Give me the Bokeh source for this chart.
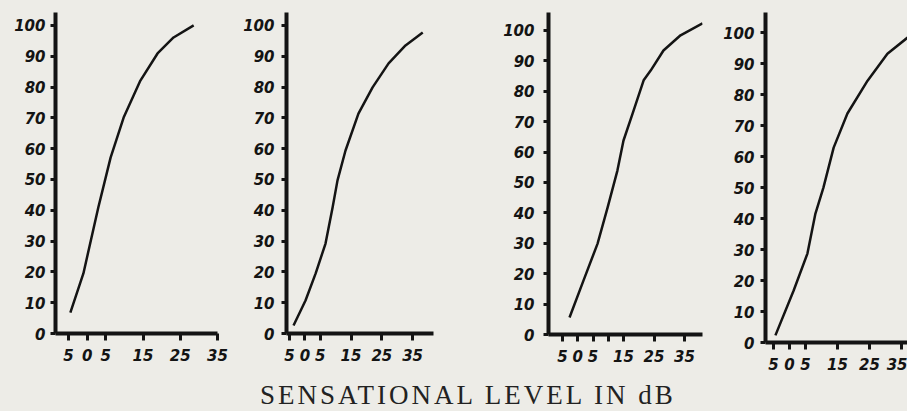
from bokeh.plotting import figure
from bokeh.layouts import row, column
from bokeh.models import FixedTicker, Div, Range1d
from bokeh.embed import file_html
from bokeh.resources import INLINE

# ---- data ----
# x: sensational level in dB, y: percent correct
p1_x = [-4.5, -1.0, 3.0, 6.3, 9.8, 14.3, 18.9, 23.2, 28.6]
p1_y = [6.8, 19.5, 40.9, 57.1, 70.1, 82.1, 90.9, 96.1, 100.0]

p2_x = [-3.7, 0.2, 3.5, 6.7, 9.0, 10.6, 13.2, 17.4, 22.0, 27.2, 32.7, 38.3]
p2_y = [2.6, 10.7, 19.5, 29.2, 40.9, 49.7, 59.4, 71.4, 79.9, 87.7, 93.5, 97.7]

p3_x = [-2.7, 1.9, 6.5, 9.8, 13.0, 15.0, 18.0, 21.6, 23.9, 28.1, 33.7, 40.9]
p3_y = [5.6, 17.8, 29.9, 41.8, 53.9, 63.8, 72.7, 83.6, 86.8, 93.4, 98.4, 102.3]

p4_x = [-4.4, 1.3, 5.6, 8.1, 10.6, 13.8, 18.1, 24.4, 30.6, 36.9]
p4_y = [2.3, 16.8, 28.7, 41.6, 50.0, 62.9, 73.9, 84.5, 93.2, 98.4]

x_ticks = [-5, 0, 5, 15, 25, 35]
x_ticks_p3 = [-5, 0, 5, 10, 15, 25, 35]
x_tick_labels = {-5: "5", 0: "0", 5: "5", 10: "", 15: "15", 25: "25", 35: "35"}
y_ticks = [0, 10, 20, 30, 40, 50, 60, 70, 80, 90, 100]

title_text = "SENSATIONAL LEVEL IN dB"

BG = "#edece7"
INK = "#141414"
TOP = 12
BOTTOM = 40


def panel(xs, ys, width, height, bl, br, xr, yr, xt, y_standoff):
    p = figure(width=width, height=height, title=None,
               x_range=Range1d(*xr), y_range=Range1d(*yr),
               output_backend="svg", toolbar_location=None,
               min_border_left=bl, min_border_right=br,
               min_border_top=TOP, min_border_bottom=BOTTOM,
               background_fill_color=BG, border_fill_color=BG,
               outline_line_color=None)
    p.grid.visible = False
    p.line(xs, ys, line_color=INK, line_width=2.5, line_join="round")

    for ax in (p.xaxis, p.yaxis):
        ax.axis_line_width = 4
        ax.axis_line_color = INK
        ax.major_tick_line_width = 3
        ax.major_tick_line_color = INK
        ax.major_tick_in = 0
        ax.minor_tick_line_color = None
        ax.major_label_text_font = "DejaVu Sans"
        ax.major_label_text_font_style = "bold italic"
        ax.major_label_text_font_size = "15px"
        ax.major_label_text_color = INK

    p.xaxis.ticker = FixedTicker(ticks=xt)
    p.xaxis.major_label_overrides = {k: v for k, v in x_tick_labels.items() if k in xt}
    p.xaxis.major_tick_out = 7
    p.xaxis.major_label_standoff = 8

    p.yaxis.ticker = FixedTicker(ticks=y_ticks)
    p.yaxis.major_tick_out = 5
    p.yaxis.major_label_standoff = y_standoff
    return p


f1 = panel(p1_x, p1_y, 240, 373, 55, 23, (-8.49, 35.0), (0, 104.2), x_ticks, 5)
f2 = panel(p2_x, p2_y, 215, 373, 46, 22, (-5.98, 41.8), (0, 104.2), x_ticks, 7)
f3 = panel(p3_x, p3_y, 260, 374, 93, 13, (-9.59, 40.9), (0, 105.9), x_ticks_p3, 9)
f4 = panel(p4_x, p4_y, 192, 382, 50, 0, (-7.5, 36.875), (0, 106.5), x_ticks, 6)

title = Div(
    text=('<div style="margin-left:260px;font-family:\'Liberation Serif\',serif;'
          'font-size:27px;line-height:27px;letter-spacing:3px;color:#222;'
          'white-space:nowrap;">' + title_text + '</div>'),
    width=907, height=29, margin=0,
    styles={"background-color": BG},
)

layout = column(row(f1, f2, f3, f4, spacing=0), title, spacing=0)

html = file_html(layout, INLINE)
html = html.replace("</head>",
                    "<style>html, body {background-color: %s !important;}</style></head>" % BG, 1)
open("out.html", "w").write(html)
